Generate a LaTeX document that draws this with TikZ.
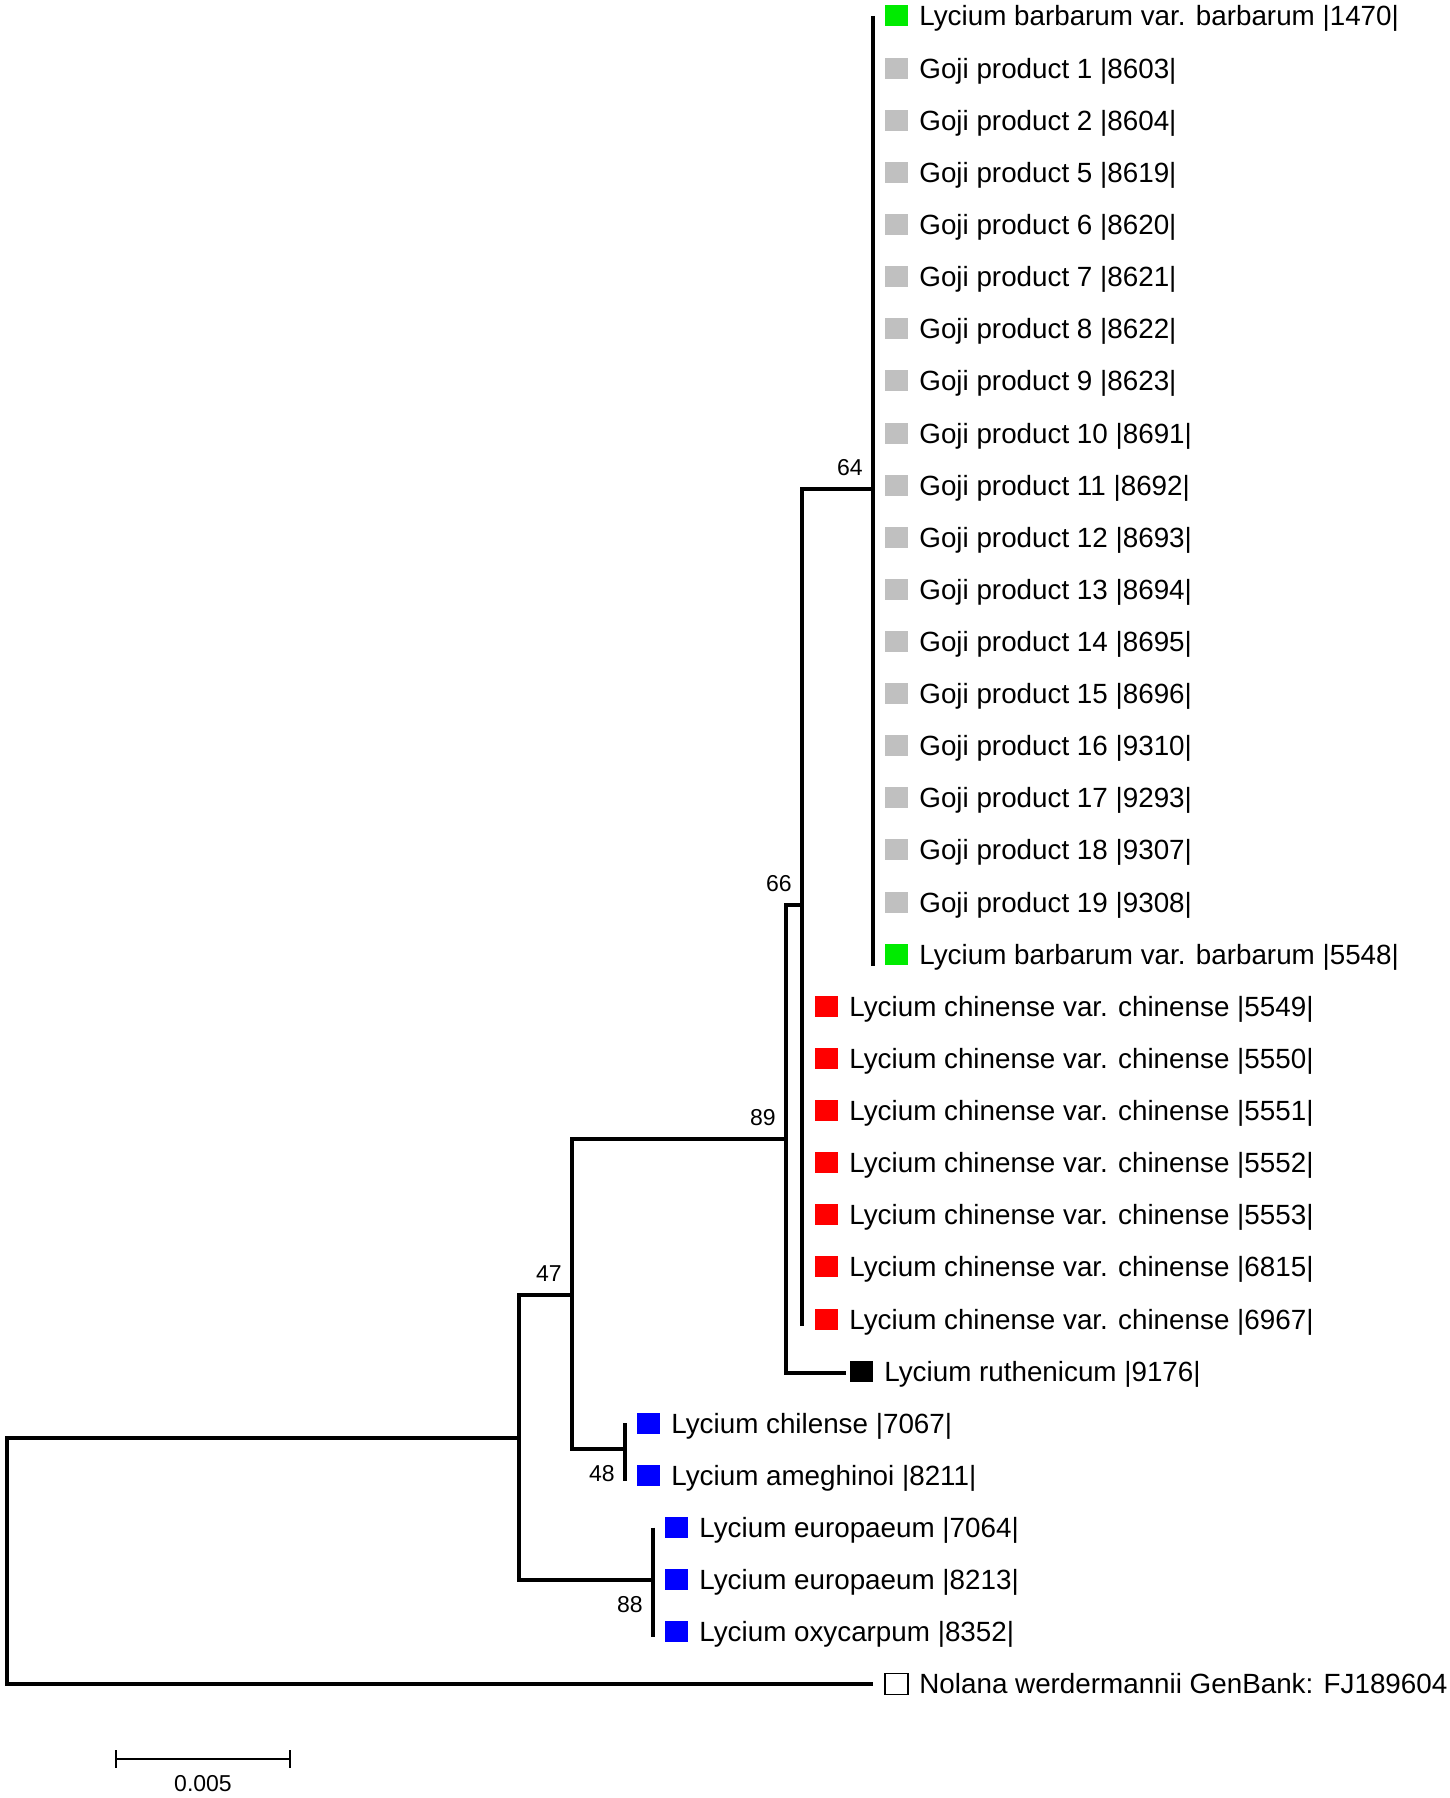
\documentclass[tikz,border=0pt]{standalone}
\usepackage{fontspec}
\setmainfont{Liberation Sans}

\definecolor{leafgreen}{RGB}{0,235,0}
\definecolor{leafgray}{RGB}{192,192,192}
\definecolor{leafred}{RGB}{255,0,0}
\definecolor{leafblue}{RGB}{0,0,255}

\newcommand{\leaffont}{\fontsize{13.9}{16}\selectfont}
\newcommand{\bootfont}{\fontsize{11.5}{13}\selectfont}

\tikzset{
  branch/.style={line width=1.6pt},
  scalebar/.style={line width=1.1pt},
  sq/.style={minimum width=11.5pt, minimum height=10.5pt, inner sep=0pt, outer sep=0pt},
  leaf/.style={anchor=west, inner sep=0pt, text height=10pt, text depth=0pt,
    font=\leaffont, label={[sq,#1,label distance=5.5pt]left:}},
  bsup/.style={anchor=south east, inner sep=0pt, font=\bootfont, xshift=-5pt, yshift=6.5pt},
  bsdown/.style={anchor=north east, inner sep=0pt, font=\bootfont, xshift=-5pt, yshift=-8pt},
}

\begin{document}
\begin{tikzpicture}[x=0.5pt, y=-0.5pt]
            \useasboundingbox (0,0) rectangle (1450,1798);

            % leaves
            \node[leaf={fill=leafgreen}] (bb1) at (919,16) {Lycium barbarum var. barbarum |1470|};
            \node[leaf={fill=leafgray}] (gp1) at (919,68.1) {Goji product 1 |8603|};
            \node[leaf={fill=leafgray}] (gp2) at (919,120.2) {Goji product 2 |8604|};
            \node[leaf={fill=leafgray}] (gp5) at (919,172.4) {Goji product 5 |8619|};
            \node[leaf={fill=leafgray}] (gp6) at (919,224.5) {Goji product 6 |8620|};
            \node[leaf={fill=leafgray}] (gp7) at (919,276.6) {Goji product 7 |8621|};
            \node[leaf={fill=leafgray}] (gp8) at (919,328.7) {Goji product 8 |8622|};
            \node[leaf={fill=leafgray}] (gp9) at (919,380.8) {Goji product 9 |8623|};
            \node[leaf={fill=leafgray}] (gp10) at (919,433.0) {Goji product 10 |8691|};
            \node[leaf={fill=leafgray}] (gp11) at (919,485.1) {Goji product 11 |8692|};
            \node[leaf={fill=leafgray}] (gp12) at (919,537.2) {Goji product 12 |8693|};
            \node[leaf={fill=leafgray}] (gp13) at (919,589.3) {Goji product 13 |8694|};
            \node[leaf={fill=leafgray}] (gp14) at (919,641.4) {Goji product 14 |8695|};
            \node[leaf={fill=leafgray}] (gp15) at (919,693.6) {Goji product 15 |8696|};
            \node[leaf={fill=leafgray}] (gp16) at (919,745.7) {Goji product 16 |9310|};
            \node[leaf={fill=leafgray}] (gp17) at (919,797.8) {Goji product 17 |9293|};
            \node[leaf={fill=leafgray}] (gp18) at (919,849.9) {Goji product 18 |9307|};
            \node[leaf={fill=leafgray}] (gp19) at (919,902.0) {Goji product 19 |9308|};
            \node[leaf={fill=leafgreen}] (bb2) at (919,954.2) {Lycium barbarum var. barbarum |5548|};
            \node[leaf={fill=leafred}] (lc1) at (849,1006.3) {Lycium chinense var. chinense |5549|};
            \node[leaf={fill=leafred}] (lc2) at (849,1058.4) {Lycium chinense var. chinense |5550|};
            \node[leaf={fill=leafred}] (lc3) at (849,1110.5) {Lycium chinense var. chinense |5551|};
            \node[leaf={fill=leafred}] (lc4) at (849,1162.6) {Lycium chinense var. chinense |5552|};
            \node[leaf={fill=leafred}] (lc5) at (849,1214.8) {Lycium chinense var. chinense |5553|};
            \node[leaf={fill=leafred}] (lc6) at (849,1266.9) {Lycium chinense var. chinense |6815|};
            \node[leaf={fill=leafred}] (lc7) at (849,1319.0) {Lycium chinense var. chinense |6967|};
            \node[leaf={fill=black}] (lru) at (884,1371.1) {Lycium ruthenicum |9176|};
            \node[leaf={fill=leafblue}] (lch) at (671,1423.2) {Lycium chilense |7067|};
            \node[leaf={fill=leafblue}] (lam) at (671,1475.4) {Lycium ameghinoi |8211|};
            \node[leaf={fill=leafblue}] (leu1) at (699,1527.5) {Lycium europaeum |7064|};
            \node[leaf={fill=leafblue}] (leu2) at (699,1579.6) {Lycium europaeum |8213|};
            \node[leaf={fill=leafblue}] (lox) at (699,1631.7) {Lycium oxycarpum |8352|};
            \node[leaf={fill=white,draw=black,line width=0.8pt}] (nol) at (919,1683.8) {Nolana werdermannii GenBank: FJ189604};

            % internal nodes
            \coordinate (root) at (7,1561);
            \coordinate (nA) at (519,1438);
            \coordinate (n47) at (572,1295);
            \coordinate (n89) at (786,1139);
            \coordinate (n66) at (802,905);
            \coordinate (n64) at (873,489);
            \coordinate (n48) at (625,1449);
            \coordinate (n88) at (653,1580);
            \coordinate (ruend) at (846,1373);
            \coordinate (nolend) at (873,1684);

            % branches
            \draw[branch] (nA) -| (root) |- (nolend);
            \draw[branch] (n47) -| (nA) |- (n88);
            \draw[branch] (n89) -| (n47) |- (n48);
            \draw[branch] (n66) -| (n89) |- (ruend);
            \draw[branch] (n64) -| (n66) -- (n66 |- lc7.west) -- ++(0,7);
            \draw[branch] (n64 |- bb1.west) -- (n64 |- bb2.west) -- ++(0,12);
            \draw[branch] (n48 |- lch.west) -- (n48 |- lam.west) -- ++(0,6);
            \draw[branch] (n88 |- leu1.west) -- (n88 |- lox.west) -- ++(0,5);

            % bootstrap values
            \node[bsup] (b64) at (n64) {64};
            \node[bsup] (b66) at (n66) {66};
            \node[bsup] (b89) at (n89) {89};
            \node[bsup] (b47) at (n47) {47};
            \node[bsdown] (b48) at (n48) {48};
            \node[bsdown] (b88) at (n88) {88};

            % scale bar
            \coordinate (sbl) at (116,1759);
            \coordinate (sbr) at (290,1759);
            \draw[scalebar] (sbl) -- (sbr);
            \draw[scalebar] (sbl) ++(0,-9) -- ++(0,18);
            \draw[scalebar] (sbr) ++(0,-9) -- ++(0,18);
            \node[font=\bootfont, inner sep=0pt] (sblab) at (203,1784) {0.005};
          \end{tikzpicture}
\end{document}
